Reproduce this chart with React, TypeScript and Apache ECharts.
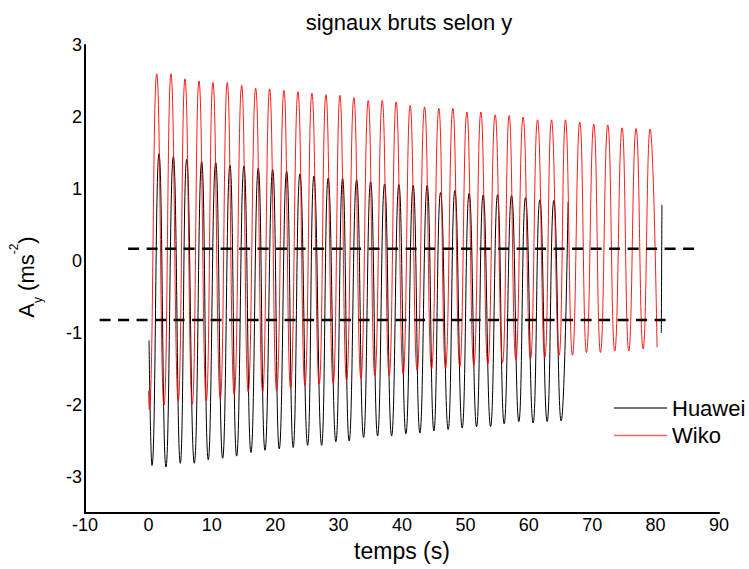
import React, { useEffect, useRef } from "react";
import * as echarts from "echarts";

// Huawei: successive extrema of the y-acceleration (s, m/s²)
const huaweiT = [
  0.1, 0.57, 1.67, 2.77, 3.93, 5.03, 6.04, 7.24, 8.4, 9.44, 10.61, 11.71, 12.86, 13.92, 15.07,
  16.18, 17.33, 18.39, 19.6, 20.64, 21.8, 22.84, 23.9, 25.11, 26.11, 27.32, 28.36, 29.57, 30.63,
  31.67, 32.84, 33.94, 35.05, 36.15, 37.25, 38.36, 39.51, 40.61, 41.76, 42.82, 43.97, 45.03, 46.08,
  47.28, 48.34, 49.49, 50.59, 51.76, 52.8, 53.97, 55.07, 56.11, 57.28, 58.43, 59.48, 60.68, 61.74,
  62.89, 63.95, 65.1, 66.2,
];
const huaweiA = [
  -1.1, -2.84, 1.49, -2.86, 1.45, -2.81, 1.41, -2.81, 1.38, -2.76, 1.37, -2.74, 1.33, -2.71, 1.32,
  -2.66, 1.29, -2.63, 1.27, -2.61, 1.25, -2.59, 1.21, -2.56, 1.18, -2.56, 1.15, -2.51, 1.15,
  -2.5, 1.13, -2.45, 1.1, -2.43, 1.07, -2.43, 1.06, -2.4, 1.05, -2.39, 1.05, -2.36, 0.95,
  -2.34, 0.98, -2.32, 0.94, -2.3, 0.92, -2.3, 0.92, -2.26, 0.91, -2.23, 0.88, -2.25, 0.85,
  -2.23, 0.84, -2.22, 0.82,
];
// last Huawei samples, recorded after a gap
const huaweiTailT = [80.9, 81.0];
const huaweiTailA = [-1.0, 0.78];

// Wiko: successive extrema of the y-acceleration (s, m/s²)
const wikoT = [
  0.02, 0.14, 1.31, 2.46, 3.56, 4.71, 5.77, 6.92, 7.98, 9.13, 10.18, 11.34, 12.44, 13.54, 14.71,
  15.75, 16.92, 18.02, 19.12, 20.23, 21.38, 22.43, 23.59, 24.69, 25.79, 26.94, 28.0, 29.15, 30.21,
  31.26, 32.41, 33.52, 34.67, 35.72, 36.88, 37.98, 39.08, 40.19, 41.29, 42.39, 43.56, 44.66, 45.81,
  46.87, 48.02, 49.12, 50.23, 51.33, 52.44, 53.54, 54.69, 55.86, 56.9, 57.96, 59.1, 60.27, 61.38,
  62.53, 63.58, 64.78, 65.79, 66.89, 68.04, 69.1, 70.25, 71.31, 72.46, 73.56, 74.71, 75.77, 76.92,
  78.03, 79.13, 80.23,
];
const wikoA = [
  -1.8, -2.06, 2.6, -2.0, 2.6, -1.94, 2.53, -1.99, 2.5, -1.94, 2.48, -1.91, 2.48, -1.85, 2.44,
  -1.82, 2.4, -1.82, 2.39, -1.8, 2.37, -1.77, 2.35, -1.73, 2.33, -1.71, 2.31, -1.7, 2.3,
  -1.66, 2.27, -1.63, 2.23, -1.59, 2.23, -1.59, 2.21, -1.57, 2.16, -1.52, 2.14, -1.5, 2.12,
  -1.49, 2.12, -1.47, 2.07, -1.45, 2.07, -1.43, 2.03, -1.41, 2.02, -1.37, 2.0, -1.36, 1.96,
  -1.34, 1.96, -1.31, 1.96, -1.31, 1.93, -1.27, 1.9, -1.27, 1.89, -1.25, 1.85, -1.25, 1.84,
  -1.22, 1.83, -1.2,
];

// horizontal reference levels (dashed)
const seuilHautT = [-3.2, 86.5];
const seuilHautA = [0.17, 0.17];
const seuilBasT = [-7.7, 82.1];
const seuilBasA = [-0.82, -0.82];

const xTicks = { min: -10, max: 90, step: 10 };
const yTicks = { min: -3.5, max: 3 };

const FONT = "'Liberation Sans', Arial, Helvetica, sans-serif";

const pairs = (t: number[], a: number[]) => t.map((x, i) => [x, a[i]]);

export default function App() {
  const ref = useRef<HTMLDivElement>(null);

  useEffect(() => {
    const chart = echarts.init(ref.current!, null, { renderer: "svg" });

    const huaweiData: any[] = [...pairs(huaweiT, huaweiA), "-", ...pairs(huaweiTailT, huaweiTailA)];

    chart.setOption({
      animation: false,
      backgroundColor: "#ffffff",
      title: {
        text: "signaux bruts selon y",
        left: 404,
        top: 6,
        textAlign: "center",
        textStyle: { fontFamily: FONT, fontSize: 22, fontWeight: "normal", color: "#000" },
      },
      grid: { left: 85, right: 30, top: 45, bottom: 56 },
      legend: {
        data: [
          { name: "Huawei", icon: "rect", itemStyle: { color: "#444", borderWidth: 0 } },
          { name: "Wiko", icon: "rect", itemStyle: { color: "#ff6060", borderWidth: 0 } },
        ],
        orient: "vertical",
        left: 609,
        top: 392,
        itemWidth: 53,
        itemHeight: 1.5,
        itemGap: 5.5,
        textStyle: { fontFamily: FONT, fontSize: 22, color: "#000", lineHeight: 22 },
      },
      xAxis: {
        type: "value",
        min: xTicks.min,
        max: xTicks.max,
        interval: xTicks.step,
        axisLine: { onZero: false, lineStyle: { color: "#000", width: 2 } },
        axisTick: { show: false },
        splitLine: { show: false },
        axisLabel: { fontFamily: FONT, fontSize: 18, color: "#000", margin: 3 },
        name: "temps (s)",
        nameLocation: "middle",
        nameGap: 26,
        nameTextStyle: { fontFamily: FONT, fontSize: 23, color: "#000" },
      },
      yAxis: {
        type: "value",
        min: yTicks.min,
        max: yTicks.max,
        interval: 0.5,
        axisLine: { show: true, onZero: false, lineStyle: { color: "#000", width: 2 } },
        axisTick: { show: false },
        splitLine: { show: false },
        axisLabel: {
          fontFamily: FONT,
          fontSize: 18,
          color: "#000",
          margin: 3,
          formatter: (v: number) => (Number.isInteger(v) ? String(v) : ""),
        },
      },
      graphic: [
        {
          type: "text",
          x: 26,
          y: 277,
          rotation: Math.PI / 2,
          style: {
            text: "{m|A}{s|y}{m| (ms}{p|-2}{m|)}",
            align: "center",
            verticalAlign: "middle",
            fill: "#000",
            rich: {
              m: { fontFamily: FONT, fontSize: 22, lineHeight: 36, fill: "#000", verticalAlign: "middle" },
              s: { fontFamily: FONT, fontSize: 12, lineHeight: 12, fill: "#000", verticalAlign: "bottom" },
              p: { fontFamily: FONT, fontSize: 12, lineHeight: 12, fill: "#000", verticalAlign: "top" },
            },
          },
        },
      ],
      series: [
        {
          name: "Huawei",
          type: "line",
          data: huaweiData,
          symbol: "none",
          smooth: 0.5,
          connectNulls: false,
          lineStyle: { color: "#000", width: 1 },
          itemStyle: { color: "#000" },
        },
        {
          name: "Wiko",
          type: "line",
          data: pairs(wikoT, wikoA),
          symbol: "none",
          smooth: 0.5,
          lineStyle: { color: "#ff0000", width: 0.9 },
          itemStyle: { color: "#ff0000" },
        },
        {
          name: "seuil haut",
          type: "line",
          data: pairs(seuilHautT, seuilHautA),
          symbol: "none",
          silent: true,
          lineStyle: { color: "#000", width: 2.5, type: [11, 7.5] },
        },
        {
          name: "seuil bas",
          type: "line",
          data: pairs(seuilBasT, seuilBasA),
          symbol: "none",
          silent: true,
          lineStyle: { color: "#000", width: 2.5, type: [11, 7.5] },
        },
      ],
    });

    return () => chart.dispose();
  }, []);

  return (
    <div
      ref={ref}
      style={{ position: "fixed", left: 0, top: 0, width: 749, height: 569, background: "#fff" }}
    />
  );
}
